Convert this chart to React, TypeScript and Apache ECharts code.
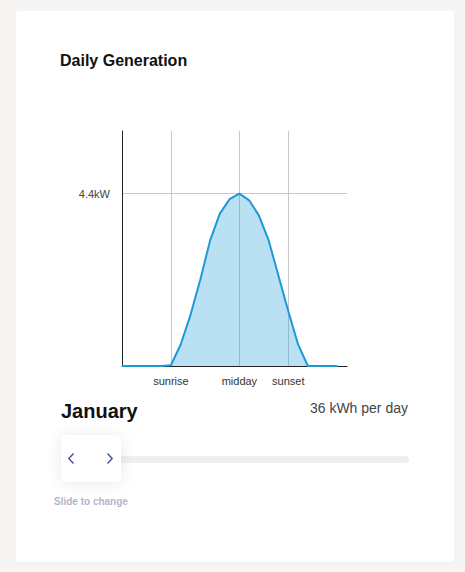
import React, { useEffect, useRef } from "react";
import * as echarts from "echarts";

const hours: string[] = [
  "0", "1", "2", "3", "4", "5", "6", "7", "8", "9", "10", "11",
  "12", "13", "14", "15", "16", "17", "18", "19", "20", "21", "22", "23",
];
const generationKW: (number | null)[] = [
  0, 0, 0, 0, 0, 0.02, 0.55, 1.3, 2.2, 3.2, 3.89, 4.26,
  4.4, 4.23, 3.84, 3.2, 2.3, 1.4, 0.55, 0, 0, 0, 0, null,
];
const markerHours: number[] = [5, 12, 17];
const markerLabels: string[] = ["sunrise", "midday", "sunset"];
const peakTicks: number[] = [4.4];
const monthName = "January";
const dailyTotal = "36 kWh per day";
const chartTitle = "Daily Generation";
const sliderHint = "Slide to change";

const FONT = '"Helvetica Neue", Helvetica, Arial, "Liberation Sans", sans-serif';

export default function App() {
  const ref = useRef<HTMLDivElement>(null);

  useEffect(() => {
    if (!ref.current) return;
    const chart = echarts.init(ref.current, undefined, { renderer: "svg" });
    const option: any = {
      animation: false,
      backgroundColor: "transparent",
      textStyle: { fontFamily: FONT },
      grid: { left: 122, right: 118, top: 131, bottom: 206, containLabel: false },
      xAxis: {
        type: "category",
        data: hours,
        boundaryGap: false,
        axisLine: { show: true, lineStyle: { color: "#222", width: 1 } },
        axisTick: { show: false },
        axisLabel: {
          interval: (idx: number) => markerHours.includes(idx),
          formatter: (_v: string, idx: number) => {
            const k = markerHours.indexOf(idx);
            return k >= 0 ? markerLabels[k] : "";
          },
          color: "#333",
          fontSize: 11,
          fontFamily: FONT,
          margin: 9,
        },
        splitLine: {
          show: true,
          interval: (idx: number) => markerHours.includes(idx),
          lineStyle: { color: "#c8c8c8", width: 1 },
        },
      },
      yAxis: {
        type: "value",
        min: 0,
        max: 6,
        interval: peakTicks[0],
        axisLine: { show: true, lineStyle: { color: "#222", width: 1 } },
        axisTick: { show: false },
        axisLabel: {
          showMinLabel: false,
          showMaxLabel: false,
          formatter: (v: number) => (peakTicks.includes(Number(v.toFixed(1))) ? v.toFixed(1) + "kW" : ""),
          color: "#444",
          fontSize: 11,
          fontFamily: FONT,
          margin: 12,
        },
        splitLine: {
          show: true,
          showMinLine: false,
          showMaxLine: false,
          lineStyle: { color: "#c8c8c8", width: 1 },
        },
      },
      series: [
        {
          type: "line",
          data: generationKW,
          showSymbol: false,
          symbol: "none",
          connectNulls: false,
          lineStyle: { color: "#1b9ad6", width: 2 },
          itemStyle: { color: "#1b9ad6" },
          areaStyle: { color: "#1b9ad6", opacity: 0.3 },
          z: 2,
        },
      ],
      graphic: [
        {
          type: "text",
          left: 60,
          top: 52,
          style: { text: chartTitle, fill: "#111", font: `bold 16px ${FONT}` },
        },
        {
          type: "text",
          x: 61,
          y: 411,
          style: { text: monthName, fill: "#111", font: `bold 20px ${FONT}`, verticalAlign: "middle" },
        },
        {
          type: "text",
          x: 408,
          y: 408,
          style: { text: dailyTotal, fill: "#444", font: `14px ${FONT}`, align: "right", verticalAlign: "middle" },
        },
        {
          type: "rect",
          shape: { x: 112, y: 456, width: 297, height: 7, r: 3.5 },
          style: { fill: "#efefef" },
          z: 1,
        },
        {
          type: "rect",
          shape: { x: 61, y: 435, width: 60, height: 47, r: 4 },
          style: { fill: "#ffffff", shadowBlur: 14, shadowColor: "rgba(0,0,0,0.09)", shadowOffsetY: 1 },
          z: 5,
        },
        {
          type: "polyline",
          shape: { points: [[73.5, 453.5], [68.8, 458.5], [73.5, 463.5]] },
          style: { stroke: "#3d4a9e", lineWidth: 1.3, fill: null },
          z: 6,
        },
        {
          type: "polyline",
          shape: { points: [[107.5, 453.5], [112.2, 458.5], [107.5, 463.5]] },
          style: { stroke: "#3d4a9e", lineWidth: 1.3, fill: null },
          z: 6,
        },
        {
          type: "text",
          x: 54,
          y: 501.5,
          style: { text: sliderHint, fill: "#b4b4cc", font: `bold 10px ${FONT}`, verticalAlign: "middle" },
        },
      ],
    };
    chart.setOption(option);
    return () => chart.dispose();
  }, []);

  return (
    <div
      style={{
        position: "fixed",
        left: 0,
        top: 0,
        width: 465,
        height: 572,
        background: "#f6f5f3",
        overflow: "hidden",
      }}
    >
      <div
        style={{
          position: "absolute",
          left: 16,
          top: 11,
          width: 438,
          height: 551,
          background: "#ffffff",
          borderRadius: 3,
          boxShadow: "0 1px 3px rgba(0,0,0,0.03)",
        }}
      />
      <div ref={ref} style={{ position: "absolute", left: 0, top: 0, width: 465, height: 572 }} />
    </div>
  );
}
